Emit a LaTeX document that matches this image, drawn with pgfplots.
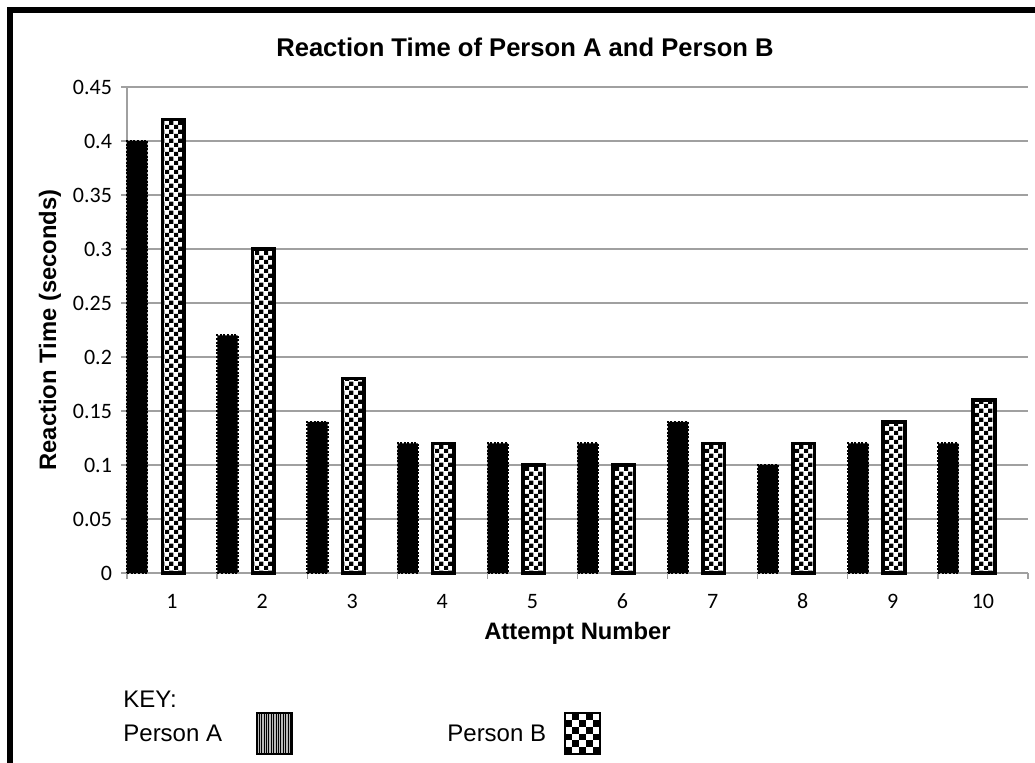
\documentclass[border=0pt]{standalone}
\usepackage{fontspec}
\setmainfont{Liberation Sans}
\newfontfamily\carlito{Carlito}
\usepackage{pgfplots}
\pgfplotsset{compat=1.18}
\usetikzlibrary{patterns.meta}
\definecolor{gridgray}{RGB}{160,160,160}

\tikzdeclarepattern{
  name=smallchecker,
  type=uncolored,
  bottom left={(0pt,0pt)},
  top right={(4.6pt,4.6pt)},
  tile size={(4.6pt,4.6pt)},
  code={
    \fill (0pt,0pt) rectangle (2.3pt,2.3pt);
    \fill (2.3pt,2.3pt) rectangle (4.6pt,4.6pt);
  }
}

\pgfplotstableread{
x  a     b
1  0.40  0.42
2  0.22  0.30
3  0.14  0.18
4  0.12  0.12
5  0.12  0.10
6  0.12  0.10
7  0.14  0.12
8  0.10  0.12
9  0.12  0.14
10 0.12  0.16
}\reactiondata

\begin{document}
\begin{tikzpicture}
\useasboundingbox (0,0) rectangle (517.5pt,381pt);
\draw[line width=3pt] (5pt,-10pt) -- (5pt,376pt) -- (530pt,376pt);
\node[font=\fontsize{12.8}{15}\selectfont\bfseries] at (262.5pt,357.5pt) {Reaction Time of Person A and Person B};
\begin{axis}[
  at={(63.5pt,94.5pt)}, anchor=south west,
  scale only axis, width=450.5pt, height=243pt,
  xmin=0.5, xmax=10.5, ymin=0, ymax=0.45,
  axis x line*=bottom, axis y line*=left,
  axis line style={gridgray, line width=0.6pt},
  ymajorgrids, grid style={gridgray, line width=0.6pt},
  ytick={0,0.05,0.1,0.15,0.2,0.25,0.3,0.35,0.4,0.45},
  yticklabels={0,0.05,0.1,0.15,0.2,0.25,0.3,0.35,0.4,0.45},
  xtick={0.5,1.5,2.5,3.5,4.5,5.5,6.5,7.5,8.5,9.5,10.5},
  xticklabels={1,2,3,4,5,6,7,8,9,10,{}},
  tick align=outside, major tick length=3pt,
  tick style={gridgray, line width=0.6pt},
  ticklabel style={font=\carlito\fontsize{11}{13}\selectfont, text=black},
  xticklabel style={anchor=base, xshift=22.5pt, yshift=-15pt},
  yticklabel style={xshift=-1pt},
  xlabel={Attempt Number},
  ylabel={Reaction Time (seconds)},
  label style={font=\fontsize{11.9}{14}\selectfont\bfseries},
  xlabel style={at={(rel axis cs:0.5,-0.1235)}, anchor=center},
  ylabel style={at={(rel axis cs:-0.0855,0.5)}, anchor=center, rotate=0},
  clip=false,
]
\addplot[ybar, bar width=0.225, bar shift=-0.385, fill=black, draw=black,
  line width=1pt, dash pattern=on 1pt off 0.8pt]
  table[x=x, y=a] {\reactiondata};
\addplot[ybar, bar width=0.24, bar shift=0.012, preaction={fill=white},
  pattern=smallchecker, pattern color=black, draw=black, line width=1.8pt]
  table[x=x, y=b] {\reactiondata};
\end{axis}
% key
\node[anchor=west, inner sep=0pt, font=\fontsize{12}{14}\selectfont] at (61.5pt,31.5pt) {KEY:};
\node[anchor=west, inner sep=0pt, font=\fontsize{12}{14}\selectfont] at (61.5pt,14.5pt) {Person A};
\node[anchor=west, inner sep=0pt, font=\fontsize{12}{14}\selectfont] at (223.5pt,14.5pt) {Person B};
\fill[gray!55] (128.5pt,4pt) rectangle (146pt,24.5pt);
\foreach \i in {0,...,13} {
  \draw[black, line width=0.45pt] ({129.6pt+\i*1.2pt},4pt) -- ({129.6pt+\i*1.2pt},24.5pt);
}
\draw[black, line width=0.6pt] (128.5pt,4pt) rectangle (146pt,24.5pt);
\fill[white] (282.5pt,4pt) rectangle (300pt,24.5pt);
\foreach \i in {0,...,4} {
  \foreach \j in {0,...,5} {
    \pgfmathtruncatemacro{\parity}{mod(\i+\j,2)}
    \ifnum\parity=0
      \fill[black] ({282.5pt+\i*3.5pt},{4pt+\j*3.4167pt}) rectangle ++(3.5pt,3.4167pt);
    \fi
  }
}
\draw[black, line width=0.8pt] (282.5pt,4pt) rectangle (300pt,24.5pt);
\end{tikzpicture}
\end{document}
